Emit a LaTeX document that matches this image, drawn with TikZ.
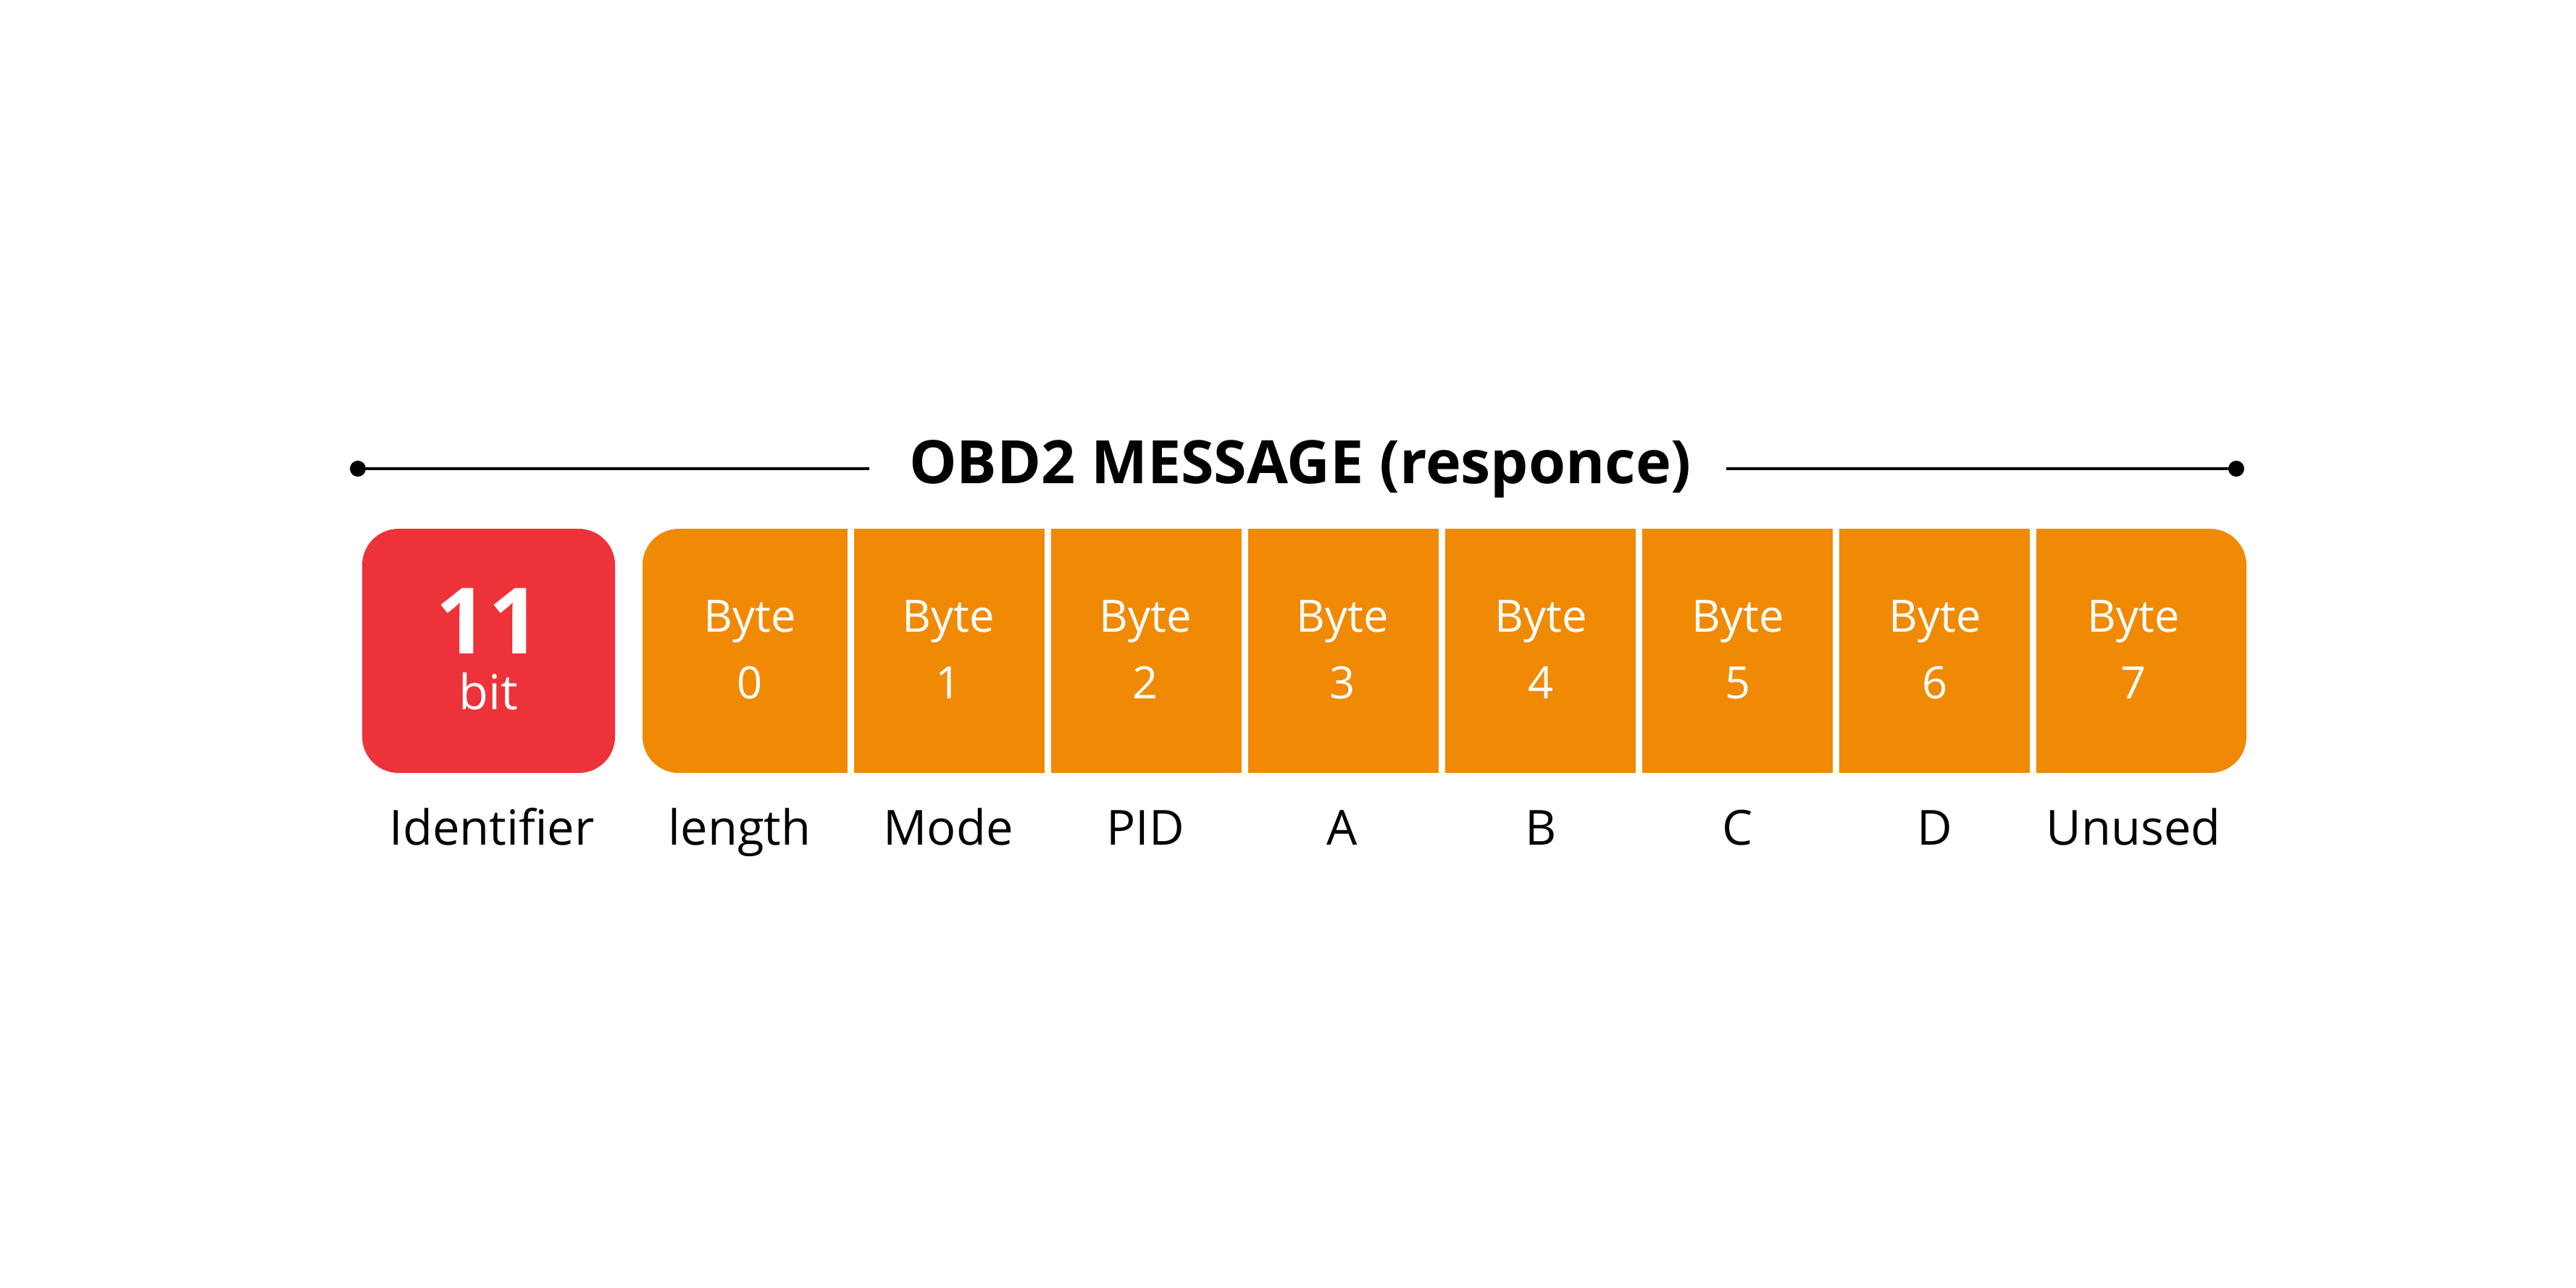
\documentclass[tikz,border=0pt]{standalone}
\usepackage{fontspec}
\setmainfont{Open Sans}
\definecolor{idred}{HTML}{EE3239}
\definecolor{byteorange}{HTML}{F08A05}
\tikzset{
  celltext/.style={text=white, font=\fontsize{17.5}{21}\selectfont, align=center, inner sep=0pt},
  fieldlabel/.style={text=black, font=\fontsize{19}{22}\selectfont, anchor=base, inner sep=0pt},
}
\begin{document}
\begin{tikzpicture}[x=1cm,y=1cm]
        \useasboundingbox (0,0) rectangle (35.56,17.78);

        % title with end dots
        \node[font=\bfseries\fontsize{23.5}{28}\selectfont, inner sep=0pt] (title) at (17.95, 11.31) {OBD2 MESSAGE (responce)};
        \fill (4.94, 11.31) circle (0.11) coordinate (ldot);
        \fill (30.87, 11.31) circle (0.11) coordinate (rdot);
        \draw[line width=1.4pt] (ldot) -- (12.0, 11.31);
        \draw[line width=1.4pt] (23.83, 11.31) -- (rdot);

        % identifier
        \fill[idred, rounded corners=0.5cm] (5.00, 7.11) rectangle (8.49, 10.48);
        \node[text=white, font=\bfseries\fontsize{36}{40}\selectfont, inner sep=0pt, anchor=base] (eleven) at (6.74, 8.75) {11};
        \node[text=white, font=\fontsize{19}{22}\selectfont, inner sep=0pt, anchor=base] (bit) at (6.74, 7.98) {bit};
        \node[fieldlabel] (identifier) at (6.79, 6.11) {Identifier};

        % data bytes
        \fill[byteorange, rounded corners=0.5cm] (8.87, 7.11) rectangle (31.01, 10.48);
        \foreach \k in {0,...,6}
            \fill[white] ({11.70 + 2.72*\k}, 7.11) rectangle ({11.79 + 2.72*\k}, 10.48);
        \foreach \i/\cx/\lab in {0/10.35/length, 1/13.09/Mode, 2/15.81/PID, 3/18.53/A,
                                 4/21.27/B, 5/23.99/C, 6/26.71/D, 7/29.45/Unused}
        {
            \node[celltext, anchor=base] (byte\i) at (\cx, 9.05) {Byte};
            \node[celltext, anchor=base] (num\i) at (\cx, 8.13) {\i};
        }
        \foreach \i/\cx/\lab in {0/10.21/length, 1/13.09/Mode, 2/15.81/PID, 3/18.53/A,
                                 4/21.27/B, 5/23.99/C, 6/26.71/D, 7/29.45/Unused}
            \node[fieldlabel] (label\i) at (\cx, 6.11) {\lab};
\end{tikzpicture}
\end{document}
